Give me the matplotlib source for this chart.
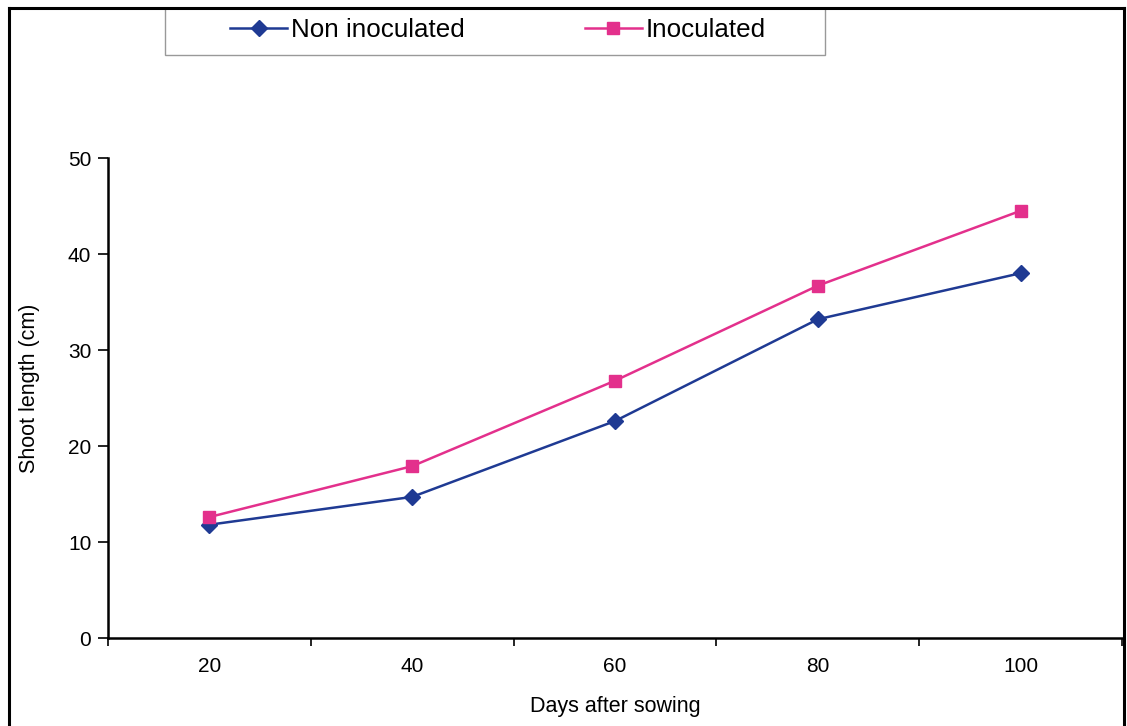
import matplotlib
matplotlib.use("Agg")
import matplotlib.pyplot as plt
from matplotlib.lines import Line2D
from matplotlib.patches import Rectangle
import numpy as np

plt.rcParams['font.family'] = ['Liberation Sans', 'DejaVu Sans']

days = ["20", "40", "60", "80", "100"]
non_inoculated = [11.8, 14.7, 22.6, 33.2, 38.0]
inoculated = [12.6, 17.9, 26.8, 36.7, 44.5]

W, H = 1127, 726
fig = plt.figure(figsize=(W / 100, H / 100), dpi=100)
ax = fig.add_axes([108 / W, (H - 638) / H, (1122 - 108) / W, (638 - 158) / H])

x = np.arange(len(days))
blue = '#1f3a93'
pink = '#e3308c'
ax.plot(x, non_inoculated, color=blue, lw=1.8, marker='D', ms=8,
        mfc=blue, mec=blue, label='Non inoculated', zorder=3)
ax.plot(x, inoculated, color=pink, lw=1.8, marker='s', ms=9,
        mfc=pink, mec=pink, label='Inoculated', zorder=3)

ax.set_xlim(-0.5, len(days) - 0.5)
ax.set_ylim(0, 50)
ax.set_yticks([0, 10, 20, 30, 40, 50])
ax.set_xticks(x)
ax.set_xticklabels(days)
ax.set_xticks(np.arange(len(days) + 1) - 0.5, minor=True)
ax.tick_params(axis='x', which='major', length=0, pad=14, labelsize=15)
ax.tick_params(axis='x', which='minor', length=6, width=1.2, direction='out')
ax.tick_params(axis='y', which='major', length=7, width=1.2, labelsize=15, pad=5)
for s in ['top', 'right']:
    ax.spines[s].set_visible(False)
for s in ['left', 'bottom']:
    ax.spines[s].set_linewidth(1.8)

ax.set_xlabel('Days after sowing', fontsize=15.5, labelpad=14)
ax.set_ylabel('Shoot length (cm)', fontsize=15.5)
ax.yaxis.set_label_coords(-68 / (1122 - 108), 0.52)

# legend frame
fig.add_artist(Rectangle((165 / W, 1 - 55 / H), (825 - 165) / W, 47 / H,
                         transform=fig.transFigure, fill=False, edgecolor='#999999', lw=1.0))
leg = fig.legend(loc='center', bbox_to_anchor=(498 / W, 1 - 30 / H),
                 ncol=2, fontsize=18.7, frameon=False, handlelength=2.2,
                 handletextpad=0.15, columnspacing=4.6, borderaxespad=0)

# outer frame of the scanned figure
fig.add_artist(Line2D([9 / W, 1124 / W], [1 - 8 / H, 1 - 8 / H], color='black', lw=2.2,
                      transform=fig.transFigure))
fig.add_artist(Line2D([9 / W, 9 / W], [0, 1 - 8 / H], color='black', lw=2.2,
                      transform=fig.transFigure))
fig.add_artist(Line2D([1124 / W, 1124 / W], [0, 1 - 8 / H], color='black', lw=2.2,
                      transform=fig.transFigure))

fig.savefig('out.png', dpi=100)
